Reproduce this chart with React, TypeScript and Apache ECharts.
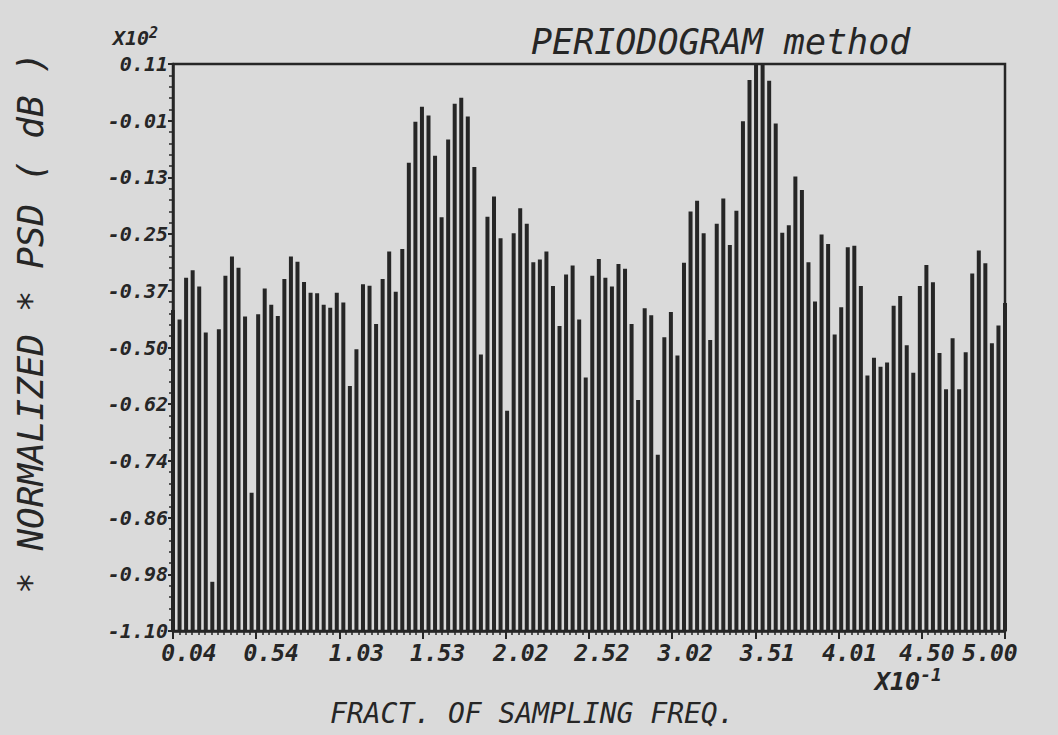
import React, { useEffect, useRef } from "react";
import * as echarts from "echarts";

// Periodogram PSD estimate, 128 frequency bins (k/256 of the sampling rate), in dB.
const psdDb: number[] = [
  -41.5, -43.5, -34.6, -33.0, -36.5, -46.3, -99.5, -45.6, -34.2, -30.1,
  -32.5, -42.9, -80.5, -42.4, -36.9, -40.4, -42.8, -34.9, -30.1, -31.2,
  -35.5, -37.8, -37.9, -40.4, -41.0, -37.8, -39.9, -57.7, -49.9, -36.0,
  -36.3, -44.5, -34.9, -29.0, -37.6, -28.5, -10.1, -1.3, 1.9, 0.0,
  -8.6, -21.7, -5.1, 2.5, 3.8, -0.2, -11.0, -51.0, -21.6, -17.3,
  -26.2, -63.0, -25.1, -19.8, -23.1, -31.3, -30.7, -29.0, -36.4, -44.9,
  -33.9, -32.0, -43.5, -55.9, -34.2, -30.6, -34.6, -36.5, -31.7, -32.7,
  -44.5, -60.7, -41.1, -42.6, -72.4, -47.3, -41.9, -51.2, -31.4, -20.5,
  -18.2, -25.1, -47.9, -23.1, -17.7, -27.6, -20.3, -1.2, 7.6, 11.0,
  11.0, 7.4, -1.7, -25.0, -23.4, -13.0, -15.9, -31.3, -39.7, -25.4,
  -27.4, -46.7, -40.9, -28.1, -27.8, -36.4, -55.5, -51.7, -53.6, -52.7,
  -40.6, -38.5, -49.0, -54.9, -36.4, -31.9, -35.6, -50.7, -58.4, -47.5,
  -58.4, -50.5, -33.7, -28.8, -31.5, -48.6, -44.8, -40.0,
];

// Tick labels as printed on the plot (x in units of 1e-1, y in units of 1e2 dB)
const xTickLabels = ["0.04", "0.54", "1.03", "1.53", "2.02", "2.52", "3.02", "3.51", "4.01", "4.50", "5.00"];
const yTickLabels = ["-1.10", "-0.98", "-0.86", "-0.74", "-0.62", "-0.50", "-0.37", "-0.25", "-0.13", "-0.01", "0.11"];

// Axis extents: y runs from -110 dB to +11 dB; x spans bin 1 .. bin 128
const DB_FLOOR = -110;
const DB_TOP = 11;
const BIN_COUNT = psdDb.length;

const INK = "#262626";
const PAPER = "#dadada";
const MONO = "'DejaVu Sans Mono', monospace";

// horizontal nudge of each x tick label relative to its tick (plotter placement)
const xLabelShift = [16, 15, 17, 15, 15, 13, 13, 12, 11, 5, -15];

export default function App() {
  const ref = useRef<HTMLDivElement>(null);

  useEffect(() => {
    if (!ref.current) return;
    const chart = echarts.init(ref.current, undefined, { renderer: "svg" });

    const ySpan = DB_TOP - DB_FLOOR;
    const xSpan = BIN_COUNT - 1;
    // bar heights measured up from the -110 dB floor
    const barData = psdDb.map((db, i) => [i, db - DB_FLOOR]);

    const xRich: Record<string, object> = {};
    xLabelShift.forEach((s, i) => {
      xRich["t" + i] = {
        fontFamily: MONO,
        fontStyle: "italic",
        fontWeight: "bold",
        fontSize: 23,
        color: INK,
        padding: s >= 0 ? [0, 0, 0, 2 * s] : [0, -2 * s, 0, 0],
      };
    });

    chart.setOption({
      animation: false,
      backgroundColor: PAPER,
      grid: {
        left: 173,
        right: 53,
        top: 64,
        bottom: 104,
        show: true,
        borderColor: INK,
        borderWidth: 2.5,
        containLabel: false,
      },
      title: [
        {
          text: "PERIODOGRAM method",
          left: 526,
          top: 19,
          textStyle: { fontFamily: MONO, fontStyle: "italic", fontWeight: "normal", fontSize: 35, color: INK },
        },
        {
          text: "FRACT. OF SAMPLING FREQ.",
          left: 325,
          top: 694,
          textStyle: { fontFamily: MONO, fontStyle: "italic", fontWeight: "normal", fontSize: 28, color: INK },
        },
        {
          text: "X10{s|2}",
          left: 108,
          top: 20,
          textStyle: {
            fontFamily: MONO, fontStyle: "italic", fontWeight: "bold", fontSize: 20, color: INK,
            rich: { s: { fontFamily: MONO, fontStyle: "italic", fontWeight: "bold", fontSize: 15, color: INK, verticalAlign: "top", padding: [0, 0, 10, 0] } },
          },
        },
        {
          text: "X10{s|-1}",
          left: 870,
          top: 660,
          textStyle: {
            fontFamily: MONO, fontStyle: "italic", fontWeight: "bold", fontSize: 25, color: INK,
            rich: { s: { fontFamily: MONO, fontStyle: "italic", fontWeight: "bold", fontSize: 18, color: INK, verticalAlign: "top", padding: [0, 0, 14, 0] } },
          },
        },
      ],
      graphic: [
        {
          type: "text",
          x: 30,
          y: 323,
          rotation: Math.PI / 2,
          style: {
            text: "* NORMALIZED * PSD ( dB )",
            font: `italic 36px ${MONO}`,
            fill: INK,
            textAlign: "center",
            textVerticalAlign: "middle",
          },
        },
      ],
      xAxis: {
        type: "value",
        min: 0,
        max: xSpan,
        interval: xSpan / 10,
        splitLine: { show: false },
        axisLine: { show: true, onZero: false, lineStyle: { color: INK, width: 2.5 } },
        axisTick: { show: true, inside: false, length: 8, lineStyle: { color: INK, width: 2 } },
        minorTick: { show: true, splitNumber: 13, length: 4, lineStyle: { color: INK, width: 1.5 } },
        axisLabel: {
          show: true,
          margin: 10,
          showMinLabel: true,
          showMaxLabel: true,
          hideOverlap: false,
          formatter: (v: number) => {
            const i = Math.round((v / xSpan) * 10);
            return `{t${i}|${xTickLabels[i] ?? ""}}`;
          },
          rich: xRich,
        },
      },
      yAxis: {
        type: "value",
        min: 0,
        max: ySpan,
        interval: ySpan / 10,
        splitLine: { show: false },
        axisLine: { show: true, lineStyle: { color: INK, width: 2.5 } },
        axisTick: { show: true, inside: false, length: 5, lineStyle: { color: INK, width: 2 } },
        minorTick: { show: true, splitNumber: 5, length: 4, lineStyle: { color: INK, width: 1.5 } },
        axisLabel: {
          show: true,
          margin: 5,
          showMinLabel: true,
          showMaxLabel: true,
          fontFamily: MONO,
          fontStyle: "italic",
          fontWeight: "bold",
          fontSize: 20,
          color: INK,
          padding: [0, 0, 10, 0],
          formatter: (v: number) => yTickLabels[Math.round((v / ySpan) * 10)] ?? "",
        },
      },
      series: [
        {
          type: "bar",
          data: barData,
          barWidth: 4,
          itemStyle: { color: INK },
          clip: true,
        },
      ],
    });

    return () => chart.dispose();
  }, []);

  return (
    <div
      ref={ref}
      style={{ position: "fixed", left: 0, top: 0, width: 1058, height: 735, background: PAPER }}
    />
  );
}
